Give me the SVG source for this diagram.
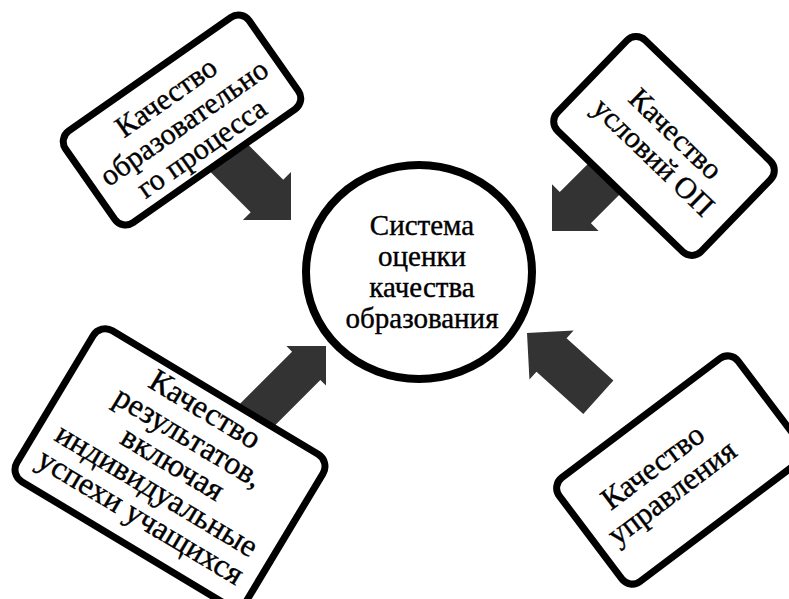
<svg xmlns="http://www.w3.org/2000/svg" width="789" height="599" viewBox="0 0 789 599">
<style>
.box{fill:#fff;stroke:#000;stroke-width:7}
.arrow{fill:#333}
.t{font-family:"Liberation Serif","Times New Roman",serif;fill:#000;stroke:#000;stroke-width:0.4;text-anchor:middle}
</style>
<rect width="789" height="599" fill="#fff"/>
<g id="connectors">
<polygon class="arrow" transform="translate(291,220) rotate(45)" points="0,0 -34,-34 -34,-23 -100,-23 -100,23 -34,23 -34,34"/>
<polygon class="arrow" transform="translate(552,231) rotate(135)" points="0,0 -33,-33 -33,-22 -100,-22 -100,22 -33,22 -33,33"/>
<polygon class="arrow" transform="translate(326,346) rotate(-45)" points="0,0 -28,-28 -28,-20 -115,-20 -115,20 -28,20 -28,28"/>
<polygon class="arrow" transform="translate(527,333) rotate(222)" points="0,0 -33,-33 -33,-22.5 -96,-22.5 -96,22.5 -33,22.5 -33,33"/>
</g>
<g id="center">
<ellipse cx="419" cy="272" rx="113" ry="107" fill="#fff" stroke="#000" stroke-width="8"/>
<text class="t" font-size="29" x="422"><tspan x="422" y="235">Система</tspan><tspan x="422" y="266">оценки</tspan><tspan x="422" y="297">качества</tspan><tspan x="422" y="328">образования</tspan></text>
</g>
<g id="box1" transform="translate(182,120) rotate(-35)">
<rect class="box" x="-112" y="-56" width="224" height="112" rx="13"/>
<text class="t" font-size="30"><tspan x="0" y="-18">Качество</tspan><tspan x="0" y="13">образовательно</tspan><tspan x="0" y="44">го процесса</tspan></text>
</g>
<g id="box2" transform="translate(664,146) rotate(44)">
<rect class="box" x="-100" y="-63" width="200" height="126" rx="13"/>
<text class="t" font-size="30"><tspan x="0" y="-7">Качество</tspan><tspan x="0" y="25">условий ОП</tspan></text>
</g>
<g id="box3" transform="translate(170,468) rotate(31)">
<rect class="box" x="-134" y="-88" width="268" height="176" rx="14"/>
<text class="t" font-size="32"><tspan x="0" y="-58">Качество</tspan><tspan x="0" y="-26">результатов,</tspan><tspan x="0" y="5">включая</tspan><tspan x="0" y="36">индивидуальные</tspan><tspan x="0" y="67">успехи учащихся</tspan></text>
</g>
<g id="box4" transform="translate(680,470) rotate(-37)">
<rect class="box" x="-112" y="-65" width="224" height="130" rx="13"/>
<text class="t" font-size="31"><tspan x="-20" y="-9">Качество</tspan><tspan x="-20" y="23">управления</tspan></text>
</g>
</svg>
